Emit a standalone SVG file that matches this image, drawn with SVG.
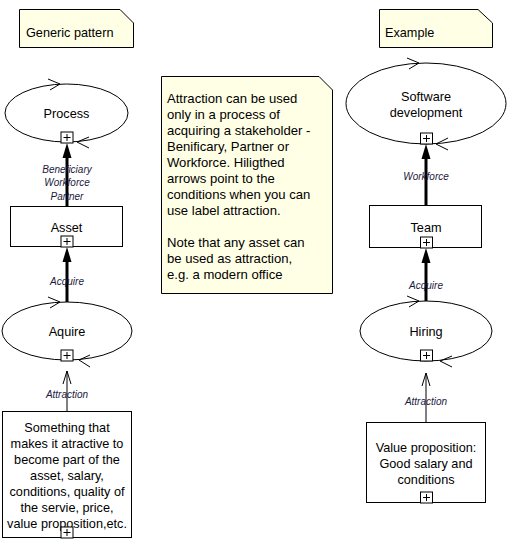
<svg xmlns="http://www.w3.org/2000/svg" width="509" height="542" viewBox="0 0 509 542">
<defs>
<style>
.t{font-family:"Liberation Sans",Arial,sans-serif;font-size:12.7px;fill:#000}
.n{font-size:13.1px}
.c{text-anchor:middle}
.l{font-family:"Liberation Sans",Arial,sans-serif;font-size:10px;font-style:italic;fill:#1a1a40;text-anchor:middle}
.box{fill:#fff;stroke:#000;stroke-width:1}
.note{fill:#ffffe6;stroke:#000;stroke-width:1}
.el{fill:#fff;stroke:#000;stroke-width:1}
.chev{fill:none;stroke:#000;stroke-width:1}
.thick{stroke:#000;stroke-width:3}
.thin{stroke:#000;stroke-width:1}
.plus rect{fill:#fff;stroke:#000;stroke-width:1}
.plus path{stroke:#000;stroke-width:1;fill:none}
</style>
<g id="plus" class="plus"><rect x="-6" y="0" width="12" height="11"/><path d="M-3.5 5.5H3.5M0 2V9"/></g>
</defs>
<rect width="509" height="542" fill="#fff"/>

<g id="connectors">
<line class="thick" x1="67" y1="206" x2="67" y2="156"/>
<polygon points="67,143 62.5,158 71.5,158" fill="#000"/>
<line class="thick" x1="67" y1="302" x2="67" y2="260"/>
<polygon points="67,247 62.5,262 71.5,262" fill="#000"/>
<line class="thin" x1="67" y1="411" x2="67" y2="371"/>
<polyline class="chev" points="63,384 67,371 71,384"/>
<line class="thick" x1="426" y1="205" x2="426" y2="157"/>
<polygon points="426,144 421.5,159 430.5,159" fill="#000"/>
<line class="thick" x1="426" y1="302" x2="426" y2="260"/>
<polygon points="426,248 421.5,263 430.5,263" fill="#000"/>
<line class="thin" x1="426" y1="422" x2="426" y2="373"/>
<polyline class="chev" points="422,386 426,373 430,386"/>
<text class="l" x="67" y="173">Beneficiary</text>
<text class="l" x="67" y="186">Workforce</text>
<text class="l" x="67" y="200">Partner</text>
<text class="l" x="67" y="285">Acquire</text>
<text class="l" x="67" y="398">Attraction</text>
<text class="l" x="426" y="180">Workforce</text>
<text class="l" x="426" y="289">Acquire</text>
<text class="l" x="426" y="405">Attraction</text>
</g>

<g id="note-generic">
<path class="note" d="M19.5 9.5H120L133.5 23V47.5H19.5Z"/>
<text class="t" x="26" y="36.5">Generic pattern</text>
</g>

<g id="note-example">
<path class="note" d="M379.5 9.5H478L492.5 23V47.5H379.5Z"/>
<text class="t" x="385" y="36.5">Example</text>
</g>

<g id="note-middle">
<path class="note" d="M161.5 76.5H319L332.5 90V293.5H161.5Z"/>
<text class="t n" x="167" y="103">Attraction can be used</text>
<text class="t n" x="167" y="119">only in a process of</text>
<text class="t n" x="167" y="135">acquiring a stakeholder -</text>
<text class="t n" x="167" y="151">Benificary, Partner or</text>
<text class="t n" x="167" y="167">Workforce. Hiligthed</text>
<text class="t n" x="167" y="183">arrows point to the</text>
<text class="t n" x="167" y="199">conditions when you can</text>
<text class="t n" x="167" y="215">use label attraction.</text>
<text class="t n" x="167" y="247">Note that any asset can</text>
<text class="t n" x="167" y="263">be used as attraction,</text>
<text class="t n" x="167" y="279">e.g. a modern office</text>
</g>

<g id="process">
<ellipse class="el" cx="66.5" cy="113" rx="61.5" ry="29"/>
<polyline class="chev" points="48,79 60,84 50,90"/>
<polyline class="chev" points="89,137 77,142 89,148"/>
<text class="t c" x="66.5" y="117.5">Process</text>
<use href="#plus" x="67" y="132"/>
</g>

<g id="asset">
<rect class="box" x="10.5" y="206.5" width="112" height="40"/>
<text class="t c" x="66.5" y="232">Asset</text>
<use href="#plus" x="67" y="236"/>
</g>

<g id="aquire">
<ellipse class="el" cx="67" cy="331" rx="65" ry="29"/>
<polyline class="chev" points="48,297 60,302 50,308"/>
<polyline class="chev" points="90,355 79,360 90,367"/>
<text class="t c" x="67" y="335.5">Aquire</text>
<use href="#plus" x="67" y="350"/>
</g>

<g id="something">
<rect class="box" x="2.5" y="411.5" width="129" height="126"/>
<text class="t c" x="67" y="432">Something that</text>
<text class="t c" x="67" y="448">makes it atractive to</text>
<text class="t c" x="67" y="464">become part of the</text>
<text class="t c" x="67" y="480">asset, salary,</text>
<text class="t c" x="67" y="496">conditions, quality of</text>
<text class="t c" x="67" y="512">the servie, price,</text>
<text class="t c" x="67" y="528">value proposition,etc.</text>
<use href="#plus" x="67" y="527"/>
</g>

<g id="software">
<ellipse class="el" cx="426" cy="103.5" rx="80" ry="40.5"/>
<polyline class="chev" points="407,58 419,63 409,69"/>
<polyline class="chev" points="448,138 436,144 448,150"/>
<text class="t c" x="426" y="100.5">Software</text>
<text class="t c" x="426" y="116.5">development</text>
<use href="#plus" x="426.5" y="133"/>
</g>

<g id="team">
<rect class="box" x="369.5" y="205.5" width="112" height="42"/>
<text class="t c" x="426" y="231.5">Team</text>
<use href="#plus" x="426.5" y="237"/>
</g>

<g id="hiring">
<ellipse class="el" cx="426" cy="331" rx="66" ry="30"/>
<polyline class="chev" points="407,296 419,301 409,307"/>
<polyline class="chev" points="452,356 440,361 452,367"/>
<text class="t c" x="426" y="335.5">Hiring</text>
<use href="#plus" x="426.5" y="350"/>
</g>

<g id="value">
<rect class="box" x="366.5" y="422.5" width="119" height="80"/>
<text class="t c" x="426" y="452">Value proposition:</text>
<text class="t c" x="426" y="468">Good salary and</text>
<text class="t c" x="426" y="484">conditions</text>
<use href="#plus" x="426.5" y="492"/>
</g>
</svg>
